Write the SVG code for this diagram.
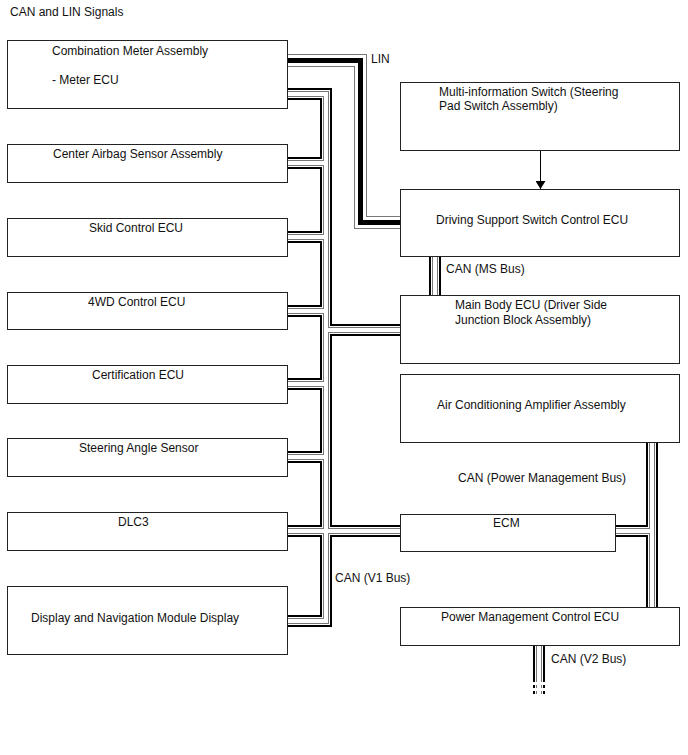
<svg xmlns="http://www.w3.org/2000/svg" xmlns:xlink="http://www.w3.org/1999/xlink" width="688" height="755" viewBox="0 0 688 755">
<style>
text{font-family:"Liberation Sans",Arial,sans-serif;font-size:12px;fill:#111}
.box{fill:#fff;stroke:#222;stroke-width:1}
.net{fill:none;stroke-linejoin:miter;stroke-linecap:butt}
.k12{stroke:#000;stroke-width:12}
.w8{stroke:#fff;stroke-width:8}
.g6{stroke:#777;stroke-width:6}
.w4{stroke:#fff;stroke-width:4}
.g13{stroke:#777;stroke-width:13}
.w11{stroke:#fff;stroke-width:11}
.k5{stroke:#000;stroke-width:5}
.dash{stroke-dasharray:3 3}
</style>
<defs>
<g id="can">
<path d="M280 94H326V621H280"/>
<path d="M280 163H326M280 237H326M280 311H326M280 384H326M280 457H326M280 531H405M326 330H405"/>
<path d="M652 437V612M610 531H652"/>
<path d="M435 252V300"/>
<path d="M539 640V679"/>
</g>
<g id="v2dash"><path d="M539 679V697"/></g>
<g id="lin"><path d="M280 60.5H360.5V222.5H405"/></g>
<marker id="ah" viewBox="0 0 8 10" refX="8" refY="5" markerWidth="8" markerHeight="10" markerUnits="userSpaceOnUse" orient="auto"><path d="M0 0L8 5L0 10Z" fill="#000"/></marker>
</defs>
<text x="10" y="16">CAN and LIN Signals</text>
<g id="connectors">
<use xlink:href="#can" class="net k12"/>
<use xlink:href="#v2dash" class="net k12 dash"/>
<use xlink:href="#can" class="net w8"/>
<use xlink:href="#v2dash" class="net w8 dash"/>
<use xlink:href="#can" class="net g6"/>
<use xlink:href="#v2dash" class="net g6 dash"/>
<use xlink:href="#can" class="net w4"/>
<use xlink:href="#v2dash" class="net w4 dash"/>
<use xlink:href="#lin" class="net g13"/>
<use xlink:href="#lin" class="net w11"/>
<use xlink:href="#lin" class="net k5"/>
<line x1="540.5" y1="150" x2="540.5" y2="189" stroke="#000" stroke-width="1" marker-end="url(#ah)"/>
<text x="371" y="63">LIN</text>
<text x="446" y="273">CAN (MS Bus)</text>
<text x="458" y="482">CAN (Power Management Bus)</text>
<text x="335" y="582">CAN (V1 Bus)</text>
<text x="551" y="663">CAN (V2 Bus)</text>
</g>
<g id="combination-meter"><rect class="box" x="7.5" y="40.5" width="280" height="68"/><text x="52" y="55">Combination Meter Assembly</text><text x="52" y="84">- Meter ECU</text></g>
<g id="center-airbag"><rect class="box" x="7.5" y="144.5" width="280" height="38"/><text x="53" y="158">Center Airbag Sensor Assembly</text></g>
<g id="skid-control"><rect class="box" x="7.5" y="218.5" width="280" height="38"/><text x="89" y="232">Skid Control ECU</text></g>
<g id="fourwd-control"><rect class="box" x="7.5" y="292.5" width="280" height="37"/><text x="88" y="306">4WD Control ECU</text></g>
<g id="certification"><rect class="box" x="7.5" y="365.5" width="280" height="38"/><text x="92" y="379">Certification ECU</text></g>
<g id="steering-angle"><rect class="box" x="7.5" y="438.5" width="280" height="38"/><text x="79" y="452">Steering Angle Sensor</text></g>
<g id="dlc3"><rect class="box" x="7.5" y="512.5" width="280" height="38"/><text x="118" y="526">DLC3</text></g>
<g id="display-nav"><rect class="box" x="7.5" y="586.5" width="280" height="68"/><text x="31" y="622">Display and Navigation Module Display</text></g>
<g id="multi-info-switch"><rect class="box" x="400.5" y="82.5" width="279" height="68"/><text x="439" y="96">Multi-information Switch (Steering</text><text x="439" y="110">Pad Switch Assembly)</text></g>
<g id="driving-support"><rect class="box" x="400.5" y="189.5" width="279" height="67"/><text x="436" y="224">Driving Support Switch Control ECU</text></g>
<g id="main-body"><rect class="box" x="400.5" y="295.5" width="279" height="68"/><text x="455" y="309">Main Body ECU (Driver Side</text><text x="455" y="324">Junction Block Assembly)</text></g>
<g id="air-conditioning"><rect class="box" x="400.5" y="374.5" width="279" height="68"/><text x="437" y="409">Air Conditioning Amplifier Assembly</text></g>
<g id="ecm"><rect class="box" x="400.5" y="514.5" width="215" height="37"/><text x="493" y="527">ECM</text></g>
<g id="power-management"><rect class="box" x="400.5" y="607.5" width="279" height="38"/><text x="441" y="621">Power Management Control ECU</text></g>
</svg>
